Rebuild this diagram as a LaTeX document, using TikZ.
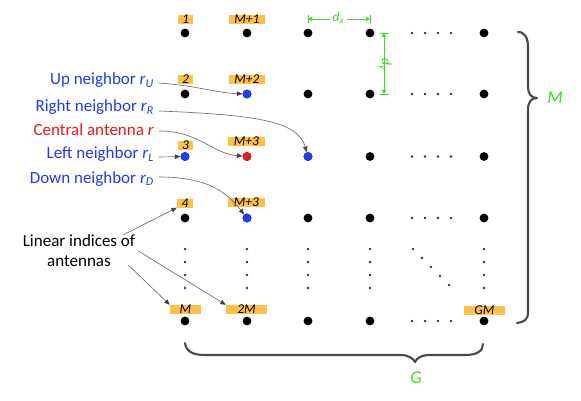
\documentclass[tikz,border=0pt]{standalone}
\usepackage{fontspec}
\setmainfont{Carlito}
\usetikzlibrary{arrows.meta,calc}
\definecolor{lblorange}{RGB}{255,192,72}
\definecolor{nbblue}{RGB}{35,60,235}
\definecolor{ctrred}{RGB}{235,25,25}
\definecolor{dimgreen}{RGB}{60,220,30}
\definecolor{bracegray}{RGB}{65,75,75}
\definecolor{arrgray}{RGB}{110,110,110}
\begin{document}
\begin{tikzpicture}[x=1pt,y=-1pt,
  bigdot/.style={circle,fill=black,minimum size=8.8pt,inner sep=0pt},
  smalldot/.style={circle,fill=black!80,minimum size=2.6pt,inner sep=0pt},
  idx/.style={fill=lblorange,inner sep=0pt,minimum height=9pt,text height=8.3pt,text depth=0pt,font=\fontsize{13.5}{15}\selectfont\itshape},
  desc/.style={anchor=base east,inner xsep=5pt,inner ysep=0pt,font=\fontsize{17}{20}\selectfont},
  pointer/.style={draw=arrgray,line width=0.65pt,-{Triangle[length=5.5pt,width=4.5pt,color=black!75]}},
  dimline/.style={draw=dimgreen,line width=0.9pt,-{Triangle[length=4pt,width=4pt]}},
  dimbar/.style={draw=dimgreen,line width=0.9pt},
  dimlabel/.style={text=dimgreen,inner sep=2.5pt,font=\fontsize{13.5}{15}\selectfont\itshape},
  countlabel/.style={text=dimgreen,font=\fontsize{18}{20}\selectfont\itshape},
  bracestyle/.style={draw=bracegray,line width=2.1pt,line cap=round,line join=round}]
\useasboundingbox[fill=white] (0,0) rectangle (581,401);

% big dots
\foreach \c/\x in {1/185,2/247,3/308,4/370,5/484}{
  \foreach \r/\y in {1/33,2/94,3/156.5,4/218,5/321}{
    \node[bigdot] (d\c\r) at (\x,\y) {};
  }
}
\node[bigdot,fill=nbblue] at (d22) {};
\node[bigdot,fill=nbblue] at (d33) {};
\node[bigdot,fill=ctrred] at (d23) {};
\node[bigdot,fill=nbblue] at (d13) {};
\node[bigdot,fill=nbblue] at (d24) {};

% vertical ellipsis dots
\foreach \x in {185,247,308,370,484}{
  \foreach \y in {249,262,275,288}{
    \node[smalldot] at (\x,\y) {};
  }
}
% horizontal ellipsis dots
\foreach \y in {33,94,156.5,218,321}{
  \foreach \x in {412,425,438,451}{
    \node[smalldot] at (\x,\y) {};
  }
}
% diagonal dots
\foreach \x/\y in {413/249,422/258,431/267,440/276,449/285}{
  \node[smalldot] at (\x,\y) {};
}

% index labels
\node[idx,minimum width=15pt] (i1) at (185.5,19.5) {1};
\node[idx,minimum width=36pt] (iM1) at (247,19.5) {M+1};
\node[idx,minimum width=15pt] (i2) at (185.5,79.5) {2};
\node[idx,minimum width=36pt] (iM2) at (247,79.5) {M+2};
\node[idx,minimum width=15pt] (i3) at (185.5,145.5) {3};
\node[idx,minimum width=37pt] (iM3) at (246.5,141.5) {M+3};
\node[idx,minimum width=16pt] (i4) at (185,203) {4};
\node[idx,minimum width=37pt] (iM3b) at (246.5,202.5) {M+3};
\node[idx,minimum width=31pt] (iM) at (185.5,309.5) {M};
\node[idx,minimum width=41pt] (i2M) at (246.5,309.5) {2M};
\node[idx,minimum width=41pt] (iGM) at (484.5,310.5) {GM};

% descriptions
\node[desc,text=nbblue] (up) at (159,85) {Up neighbor \textit{r}\textsubscript{\textit{U}}};
\node[desc,text=nbblue] (right) at (159,112) {Right neighbor \textit{r}\textsubscript{\textit{R}}};
\node[desc,text=ctrred] (central) at (159,136) {Central antenna \textit{r}};
\node[desc,text=nbblue] (left) at (159,159) {Left neighbor \textit{r}\textsubscript{\textit{L}}};
\node[desc,text=nbblue] (down) at (159,183) {Down neighbor \textit{r}\textsubscript{\textit{D}}};

\draw[pointer] ([yshift=2pt]up.base east) .. controls +(40,3) and +(-30,-1) .. (d22);
\draw[pointer] ([yshift=1pt]right.base east) .. controls +(100,4) and +(-10,-35) .. (d33);
\draw[pointer] ([yshift=5pt]central.base east) .. controls +(40,0) and +(-35,-3) .. (d23);
\draw[pointer] ([yshift=2pt]left.base east) -- (d13);
\draw[pointer] ([yshift=6pt]down.base east) .. controls +(50,0) and +(-20,-25) .. (d24);

% linear indices
\node[align=center,inner sep=0pt,font=\fontsize{17}{20}\selectfont] (lin) at (79,251) {Linear indices of\\antennas};
\draw[pointer] ([xshift=-12pt]lin.north east) -- (i4.south west);
\draw[pointer] ([xshift=3pt]lin.east) -- (i2M.north west);
\draw[pointer] ([xshift=-7pt,yshift=2pt]lin.south east) -- (iM.north west);

% dimension dx
\node[dimlabel] (dx) at (338.5,18) {d\textsubscript{x}};
\coordinate (dxl) at (308,19);
\coordinate (dxr) at (370,19);
\draw[dimbar] (308,15) -- (308,23);
\draw[dimbar] (370,15) -- (370,23);
\draw[dimline] (dx.west |- dxl) -- (dxl);
\draw[dimline] (dx.east |- dxr) -- (dxr);

% dimension dy
\node[dimlabel,rotate=-90] (dy) at (385,64) {d\textsubscript{y}};
\coordinate (dyt) at (384,33);
\coordinate (dyb) at (384,94);
\draw[dimbar] (379.5,33) -- (388.5,33);
\draw[dimbar] (379.5,94) -- (388.5,94);
\draw[dimline] (dyt |- dy.east) -- (dyt);
\draw[dimline] (dyb |- dy.west) -- (dyb);

% braces
\draw[bracestyle] (518,32) .. controls (525,32) and (528,38) .. (528,47) -- (528,86)
  .. controls (528,94) and (531,98) .. (537,98)
  .. controls (531,98) and (528,102) .. (528,110) -- (528,312)
  .. controls (528,320) and (524,322) .. (517,323);
\node[countlabel] (Mlab) at (555,98) {M};

\draw[bracestyle] (185,343) .. controls (186,351) and (192,355) .. (205,355) -- (400,355)
  .. controls (408,355) and (413,358) .. (415,362)
  .. controls (417,358) and (421,355) .. (430,355) -- (465,355)
  .. controls (477,355) and (483,351) .. (483,344);
\node[countlabel] (Glab) at (416,378) {G};
\end{tikzpicture}
\end{document}
